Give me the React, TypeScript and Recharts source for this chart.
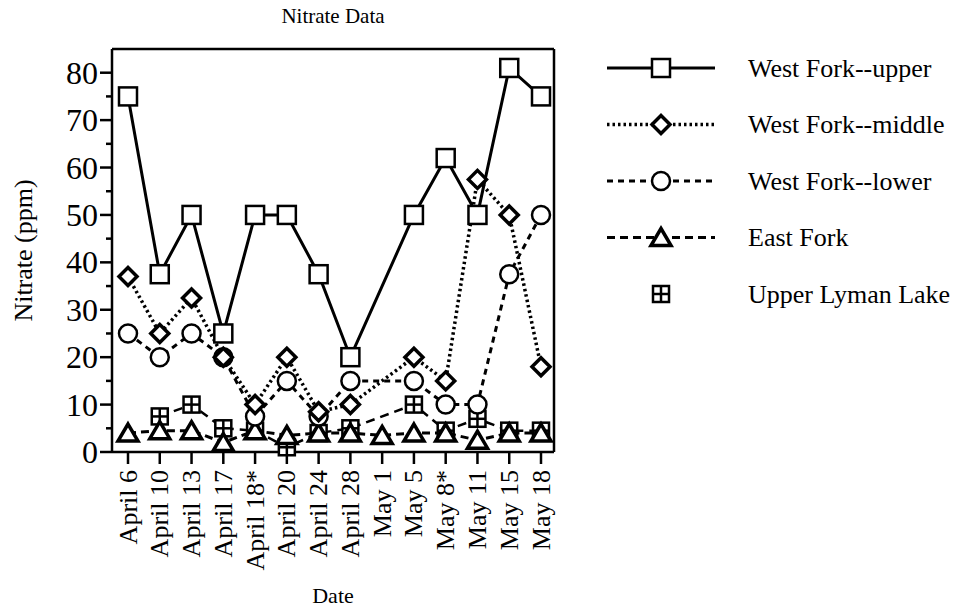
import { Legend, Line, LineChart, XAxis, YAxis } from "recharts";

const FONT = '"Liberation Serif", "Times New Roman", serif';

const dates = [
  "April 6",
  "April 10",
  "April 13",
  "April 17",
  "April 18*",
  "April 20",
  "April 24",
  "April 28",
  "May 1",
  "May 5",
  "May 8*",
  "May 11",
  "May 15",
  "May 18",
];

// nitrate readings in ppm, null where the site was not sampled
const westUpper = [75, 37.5, 50, 25, 50, 50, 37.5, 20, null, 50, 62, 50, 81, 75];
const westMiddle = [37, 25, 32.5, 20, 10, 20, 8.5, 10, null, 20, 15, 57.5, 50, 18];
const westLower = [25, 20, 25, 20, 7.5, 15, 7.5, 15, null, 15, 10, 10, 37.5, 50];
const eastFork = [4, 4.5, 4.5, 2, 4.5, 3.5, 4, 4, 3.5, 4, 4, 2.5, 4, 4];
const upperLyman = [null, 7.5, 10, 5, 4.5, 1, 4, 5, null, 10, 4.5, 7, 4.5, 4.5];

const yTicks = [0, 5, 10, 15, 20, 25, 30, 35, 40, 45, 50, 55, 60, 65, 70, 75, 80];

const data = dates.map((date, i) => ({
  date,
  westUpper: westUpper[i],
  westMiddle: westMiddle[i],
  westLower: westLower[i],
  eastFork: eastFork[i],
  upperLyman: upperLyman[i],
}));

type Marker = (cx: number, cy: number) => JSX.Element;

const drawSquare: Marker = (cx, cy) => (
  <rect x={cx - 9} y={cy - 9} width={18} height={18} fill="#fff" stroke="#000" strokeWidth={2.5} />
);
const drawDiamond: Marker = (cx, cy) => (
  <polygon
    points={`${cx},${cy - 9} ${cx + 9},${cy} ${cx},${cy + 9} ${cx - 9},${cy}`}
    fill="#fff"
    stroke="#000"
    strokeWidth={3.5}
  />
);
const drawCircle: Marker = (cx, cy) => (
  <circle cx={cx} cy={cy} r={9} fill="#fff" stroke="#000" strokeWidth={2.5} />
);
const drawTriangle: Marker = (cx, cy) => (
  <polygon
    points={`${cx},${cy - 9} ${cx + 10},${cy + 8} ${cx - 10},${cy + 8}`}
    fill="#fff"
    stroke="#000"
    strokeWidth={3.5}
  />
);
const drawBoxPlus: Marker = (cx, cy) => (
  <g stroke="#000" strokeWidth={2.5}>
    <rect x={cx - 8} y={cy - 8} width={16} height={16} fill="#fff" />
    <line x1={cx} x2={cx} y1={cy - 8} y2={cy + 8} />
    <line x1={cx - 8} x2={cx + 8} y1={cy} y2={cy} />
  </g>
);

const SERIES = [
  { key: "westUpper", name: "West Fork--upper", dash: undefined, width: 3, marker: drawSquare, legendLine: true },
  { key: "westMiddle", name: "West Fork--middle", dash: "2.5 3", width: 3.5, marker: drawDiamond, legendLine: true },
  { key: "westLower", name: "West Fork--lower", dash: "6 5", width: 3, marker: drawCircle, legendLine: true },
  { key: "eastFork", name: "East Fork", dash: "8 5", width: 3, marker: drawTriangle, legendLine: true },
  { key: "upperLyman", name: "Upper Lyman Lake", dash: "9 6", width: 2.5, marker: drawBoxPlus, legendLine: false },
];

const Y_TICK_SIZE = 12;
const Y_TICK_MARGIN = 2;

function NitrateTick({ x, y, payload }: any) {
  const major = payload.value % 10 === 0;
  const right = x + Y_TICK_SIZE + Y_TICK_MARGIN;
  return (
    <g>
      <line x1={right - (major ? 12 : 6)} x2={right} y1={y} y2={y} stroke="#000" strokeWidth={2.5} />
      {major && (
        <text x={x} y={y} textAnchor="end" dominantBaseline="central" fontSize={32} fontFamily={FONT} fill="#000">
          {payload.value}
        </text>
      )}
    </g>
  );
}

function DateTick({ x, y, payload }: any) {
  return (
    <text
      x={x}
      y={y}
      transform={`rotate(-90, ${x}, ${y})`}
      textAnchor="end"
      dominantBaseline="central"
      fontSize={26}
      fontFamily={FONT}
      fill="#000"
    >
      {payload.value}
    </text>
  );
}

function makeDot(marker: Marker) {
  return (props: any) => {
    const { cx, cy, value } = props;
    if (cx == null || cy == null || value == null) return <g />;
    return <g>{marker(cx, cy)}</g>;
  };
}

function SiteLegend() {
  const rowH = 56.5;
  return (
    <svg width={357} height={300}>
      {SERIES.map((s, i) => {
        const cy = 28 + i * rowH;
        return (
          <g key={s.key}>
            {s.legendLine && (
              <line
                x1={7}
                x2={115}
                y1={cy}
                y2={cy}
                stroke="#000"
                strokeWidth={s.width}
                strokeDasharray={s.dash}
              />
            )}
            {s.marker(61, cy)}
            <text x={148} y={cy} dominantBaseline="central" fontSize={26} fontFamily={FONT} fill="#000">
              {s.name}
            </text>
          </g>
        );
      })}
    </svg>
  );
}

const X_PADDING = { left: 16, right: 13 };

export default function App() {
  return (
    <div style={{ position: "relative", width: 957, height: 613, background: "#fff" }}>
      <style>{"body{margin:0}"}</style>
      <LineChart width={957} height={613} data={data} margin={{ top: 48, right: 402, bottom: 51, left: 6 }}>
        <XAxis
          dataKey="date"
          height={110}
          padding={X_PADDING}
          interval={0}
          tick={<DateTick />}
          tickSize={12}
          tickMargin={6}
          tickLine={{ stroke: "#000", strokeWidth: 2.5 }}
          axisLine={{ stroke: "#000", strokeWidth: 2.5 }}
          label={{ value: "Date", position: "bottom", offset: 25, fontSize: 22, fontFamily: FONT, fill: "#000" }}
        />
        <XAxis
          xAxisId="frame"
          dataKey="date"
          orientation="top"
          height={1}
          padding={X_PADDING}
          interval={0}
          tick={false}
          tickLine={false}
          axisLine={{ stroke: "#000", strokeWidth: 2.5 }}
          label={{ value: "Nitrate Data", position: "top", offset: 25, fontSize: 21, fontFamily: FONT, fill: "#000" }}
        />
        <YAxis
          domain={[0, 85]}
          ticks={yTicks}
          interval={0}
          width={106}
          tick={<NitrateTick />}
          tickSize={Y_TICK_SIZE}
          tickMargin={Y_TICK_MARGIN}
          tickLine={false}
          axisLine={{ stroke: "#000", strokeWidth: 2.5 }}
          label={{
            value: "Nitrate (ppm)",
            angle: -90,
            position: "insideLeft",
            offset: 17,
            fontSize: 26,
            fontFamily: FONT,
            fill: "#000",
            style: { textAnchor: "middle" },
          }}
        />
        <YAxis
          yAxisId="frame"
          orientation="right"
          domain={[0, 85]}
          allowDataOverflow
          width={1}
          tick={false}
          tickLine={false}
          axisLine={{ stroke: "#000", strokeWidth: 2.5 }}
        />
        <Legend
          layout="vertical"
          align="center"
          verticalAlign="middle"
          content={() => <SiteLegend />}
          wrapperStyle={{ left: 600, top: 40, width: 357 }}
        />
        {[...SERIES].reverse().map((s) => (
          <Line
            key={s.key}
            // East Fork is tied to the frame axes so that they get drawn; they share the same scales
            xAxisId={s.key === "eastFork" ? "frame" : 0}
            yAxisId={s.key === "eastFork" ? "frame" : 0}
            type="linear"
            dataKey={s.key}
            name={s.name}
            stroke="#000"
            strokeWidth={s.width}
            strokeDasharray={s.dash}
            connectNulls
            dot={makeDot(s.marker)}
            activeDot={false}
            isAnimationActive={false}
          />
        ))}
      </LineChart>
    </div>
  );
}
